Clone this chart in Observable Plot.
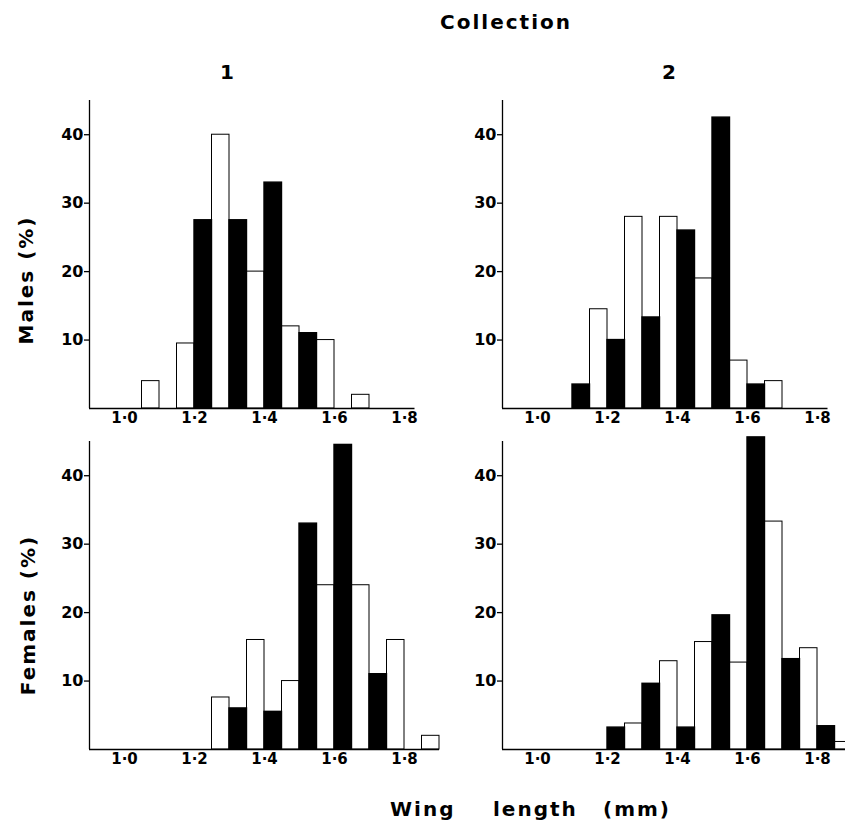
<!DOCTYPE html>
<html><head><meta charset="utf-8">
<script src="https://cdn.jsdelivr.net/npm/d3@7"></script>
<script src="https://cdn.jsdelivr.net/npm/@observablehq/plot@0.6"></script>
<style>
html,body{margin:0;padding:0;background:#fff;overflow:hidden;}
#fig{position:relative;width:846px;height:825px;font-family:"DejaVu Sans",sans-serif;font-weight:bold;color:#000;}
.lbl{position:absolute;white-space:pre;letter-spacing:2px;font-size:20px;line-height:1;}
.panel{position:absolute;}
.panel text{font-size:15px !important;font-weight:bold;}
.panel g[aria-label="y-axis tick label"] text{font-size:16px !important;}
</style></head><body><div id="fig"></div>
<script>
// Bin left edges (mm); each bin 0.1 wide: black half on the left, open half on the right
const binStarts = [1.0, 1.1, 1.2, 1.3, 1.4, 1.5, 1.6, 1.7, 1.8];
const halfBin = 0.05;

// Males, collection 1
const malesC1Black = [0, 0, 27.5, 27.5, 33, 11, 0, 0, 0];
const malesC1Open  = [4, 9.5, 40, 20, 12, 10, 2, 0, 0];
// Males, collection 2
const malesC2Black = [0, 3.5, 10, 13.3, 26, 42.5, 3.5, 0, 0];
const malesC2Open  = [0, 14.5, 28, 28, 19, 7, 4, 0, 0];
// Females, collection 1
const femalesC1Black = [0, 0, 0, 6, 5.5, 33, 44.5, 11, 0];
const femalesC1Open  = [0, 0, 7.6, 16, 10, 24, 24, 16, 2];
// Females, collection 2
const femalesC2Black = [0, 0, 3.2, 9.6, 3.2, 19.6, 45.6, 13.2, 3.4];
const femalesC2Open  = [0, 0, 3.8, 12.9, 15.7, 12.7, 33.3, 14.8, 1.1];

const xTicks = [1.0, 1.2, 1.4, 1.6, 1.8];
const yTicks = [10, 20, 30, 40];
const yDomain = [0, 45];

const fig = document.getElementById("fig");

function addLabel(text, x, y, opts = {}) {
  const d = document.createElement("div");
  d.className = "lbl";
  d.textContent = text;
  d.style.left = x + "px";
  d.style.top = y + "px";
  d.style.transform = opts.transform || "translate(-50%,-50%)";
  if (opts.size) d.style.fontSize = opts.size;
  fig.appendChild(d);
}

function panel(black, open, xDomain, left, top, mR) {
  const mL = 89, mT = 20, mB = 30, innerH = 308;
  const innerW = (xDomain[1] - xDomain[0]) * 350;
  const rows = binStarts.map((b, i) => ({b, black: black[i], open: open[i]}));
  const p = Plot.plot({
    width: mL + innerW + mR,
    height: mT + innerH + mB,
    marginLeft: mL, marginTop: mT, marginBottom: mB, marginRight: mR,
    x: {domain: xDomain},
    y: {domain: yDomain},
    style: {background: "transparent", fontFamily: "DejaVu Sans", fontWeight: "bold", fontSize: "15px", color: "#000", overflow: "hidden"},
    marks: [
      Plot.rect(rows.filter(d => d.open > 0), {x1: d => d.b + halfBin, x2: d => d.b + 2 * halfBin, y1: 0, y2: "open", fill: "white", stroke: "black", strokeWidth: 1}),
      Plot.rect(rows.filter(d => d.black > 0), {x1: "b", x2: d => d.b + halfBin, y1: 0, y2: "black", fill: "black", stroke: "black", strokeWidth: 1.4}),
      Plot.ruleY([0], {stroke: "black", strokeWidth: 1.3}),
      Plot.ruleX([xDomain[0]], {stroke: "black", strokeWidth: 1.3}),
      Plot.axisY({ticks: yTicks, tickSize: 5, tickPadding: 1, label: null, strokeWidth: 1.3}),
      Plot.axisX({ticks: xTicks, tickSize: 0, tickPadding: 4, label: null,
        tickFormat: d => d3.format(".1f")(d).replace(".", "\u00b7")})
    ]
  });
  p.classList.add("panel");
  p.style.left = left + "px";
  p.style.top = (top - mT) + "px";
  fig.appendChild(p);
}

panel(malesC1Black, malesC1Open, [0.9, 1.83], 0, 100, 4);
panel(malesC2Black, malesC2Open, [0.9, 1.83], 413, 100, 4);
panel(femalesC1Black, femalesC1Open, [0.9, 1.9], 0, 441, 4);
panel(femalesC2Black, femalesC2Open, [0.9, 1.88], 413, 441, 0);

addLabel("Collection", 506, 22);
addLabel("1", 228, 72);
addLabel("2", 670, 72);
addLabel("Males (%)", 26, 280, {transform: "translate(-50%,-50%) rotate(-90deg)"});
addLabel("Females (%)", 28, 615, {transform: "translate(-50%,-50%) rotate(-90deg)"});
addLabel("Wing", 390, 809, {transform: "translate(0,-50%)"});
addLabel("length", 493, 809, {transform: "translate(0,-50%)"});
addLabel("(mm)", 603, 809, {transform: "translate(0,-50%)"});
</script>
</body></html>
